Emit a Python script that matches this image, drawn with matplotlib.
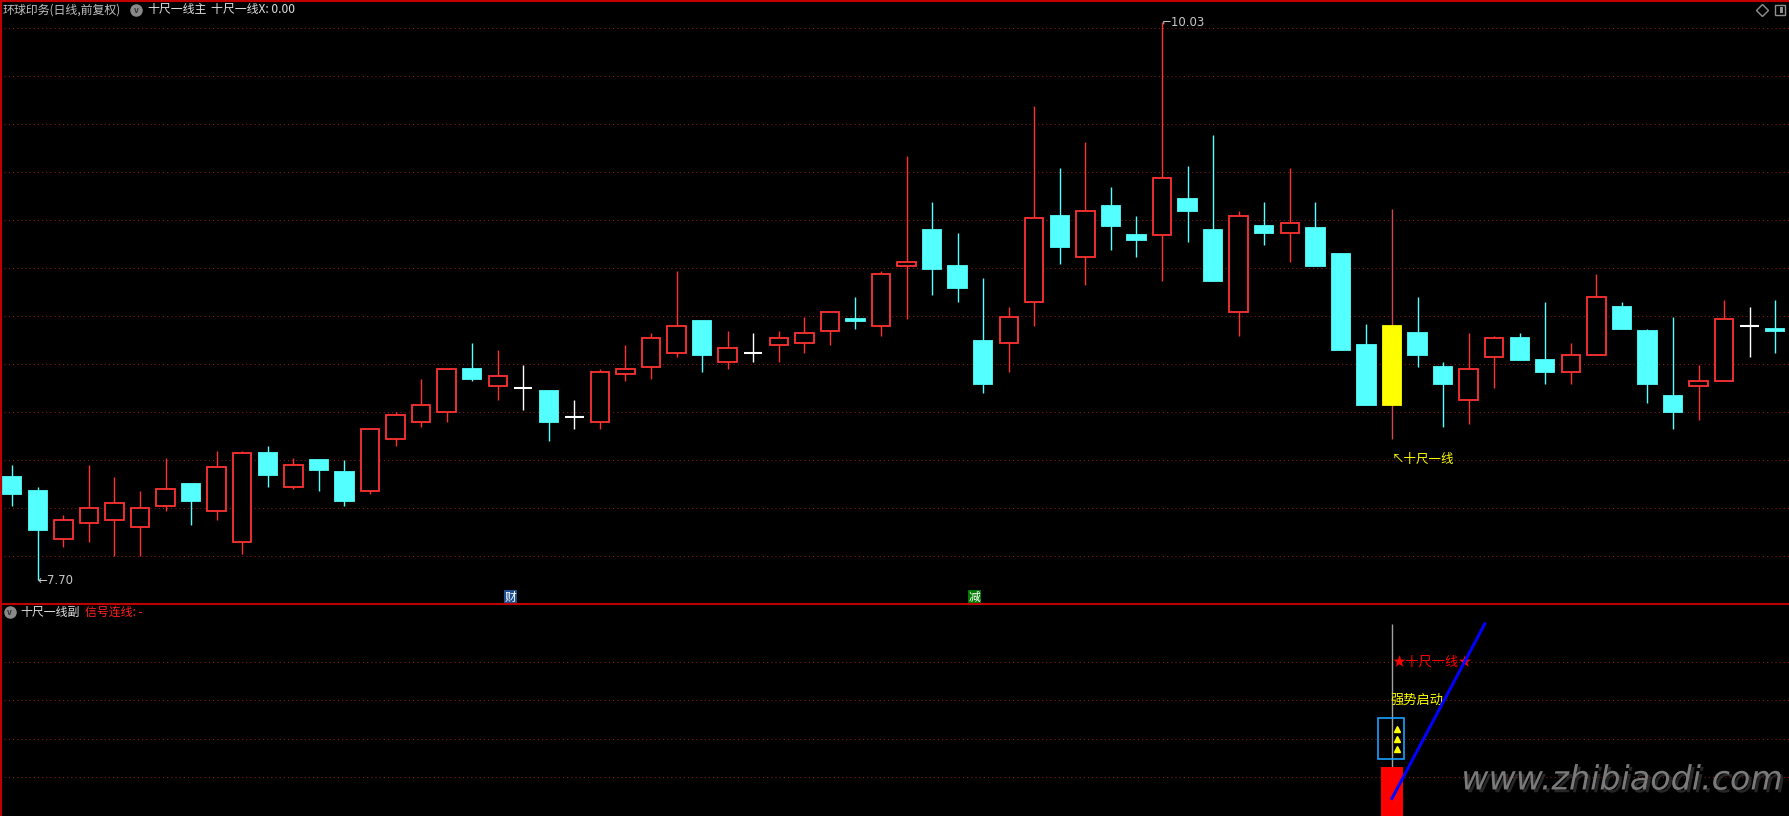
import numpy as np
import matplotlib
matplotlib.use("Agg")
import matplotlib.pyplot as plt
from matplotlib.lines import Line2D
from matplotlib.patches import Rectangle
import matplotlib.patheffects as pe

plt.rcParams['font.family'] = ['Noto Sans CJK SC', 'DejaVu Sans']

# ---- daily candles (环球印务, 前复权) ----
opens = [8.13, 8.07, 7.87, 7.94, 7.95, 7.92, 8.01, 8.10, 7.99, 7.86,
         8.23, 8.09, 8.20, 8.15, 8.07, 8.29, 8.36, 8.40, 8.58, 8.51,
         8.50, 8.49, 8.38, 8.36, 8.56, 8.59, 8.65, 8.78, 8.61, 8.65,
         8.68, 8.69, 8.74, 8.79, 8.76, 9.01, 9.16, 9.01, 8.70, 8.69,
         8.86, 9.22, 9.05, 9.26, 9.14, 9.14, 9.29, 9.16, 8.82, 9.18,
         9.15, 9.17, 9.06, 8.68, 8.43, 8.73, 8.59, 8.45, 8.63, 8.71,
         8.62, 8.57, 8.64, 8.84, 8.74, 8.47, 8.51, 8.53, 8.76, 8.75]
highs = [8.18, 8.09, 7.97, 8.18, 8.13, 8.07, 8.21, 8.10, 8.24, 8.24,
         8.26, 8.21, 8.20, 8.20, 8.33, 8.40, 8.54, 8.58, 8.69, 8.66,
         8.60, 8.49, 8.45, 8.58, 8.68, 8.73, 8.99, 8.78, 8.74, 8.73,
         8.74, 8.80, 8.82, 8.88, 8.99, 9.47, 9.28, 9.15, 8.96, 8.84,
         9.68, 9.42, 9.53, 9.34, 9.22, 10.03, 9.43, 9.56, 9.24, 9.28,
         9.42, 9.28, 9.06, 8.77, 9.25, 8.88, 8.61, 8.73, 8.72, 8.73,
         8.86, 8.69, 8.98, 8.86, 8.75, 8.80, 8.60, 8.87, 8.84, 8.87]
lows = [8.01, 7.70, 7.84, 7.86, 7.80, 7.80, 7.99, 7.93, 7.95, 7.81,
        8.09, 8.08, 8.07, 8.01, 8.06, 8.26, 8.34, 8.36, 8.53, 8.45,
        8.41, 8.28, 8.33, 8.33, 8.53, 8.54, 8.63, 8.57, 8.58, 8.61,
        8.61, 8.65, 8.68, 8.75, 8.72, 8.79, 8.89, 8.86, 8.48, 8.57,
        8.76, 9.02, 8.93, 9.08, 9.05, 8.95, 9.11, 8.95, 8.72, 9.10,
        9.03, 9.01, 8.66, 8.43, 8.29, 8.59, 8.34, 8.35, 8.50, 8.62,
        8.52, 8.52, 8.64, 8.75, 8.44, 8.33, 8.37, 8.53, 8.63, 8.65]
closes = [8.06, 7.91, 7.95, 8.00, 8.02, 8.00, 8.08, 8.03, 8.17, 8.23,
          8.14, 8.18, 8.16, 8.03, 8.33, 8.39, 8.43, 8.58, 8.54, 8.55,
          8.50, 8.36, 8.38, 8.57, 8.58, 8.71, 8.76, 8.64, 8.67, 8.65,
          8.71, 8.73, 8.82, 8.78, 8.98, 9.03, 9.00, 8.92, 8.52, 8.80,
          9.21, 9.09, 9.24, 9.18, 9.12, 9.38, 9.24, 8.95, 9.22, 9.15,
          9.19, 9.01, 8.66, 8.43, 8.76, 8.64, 8.52, 8.58, 8.71, 8.62,
          8.57, 8.64, 8.88, 8.75, 8.52, 8.40, 8.53, 8.79, 8.76, 8.74]

signal_idx = 54            # 十尺一线 signal day
cai_idx, jian_idx = 19.5, 37.65   # 财 / 减 markers
hi_idx, hi_val = 45, 10.03
lo_idx, lo_val = 1, 7.70
# sub panel (十尺一线副), panel units 0..100
sub_bar = 23.3
sub_line_x = [54, 57.63]
sub_line_y = [8.3, 90.6]
sub_tri = [41.2, 36.4, 31.6]

RED = '#ff3232'
CYAN = '#54ffff'
GRID = '#8a1a1a'
BORDER = '#c00000'
W, H = 1789, 816

def fx(x):
    return x / W

def fy(y):
    return 1 - y / H

fig = plt.figure(figsize=(W / 100, H / 100), dpi=100, facecolor='black')
ax = fig.add_axes([0, fy(604), 1, 604 / H])
sub = fig.add_axes([0, 0, 1, fy(604)])

for a in (ax, sub):
    a.set_facecolor('black')
    for s in a.spines.values():
        s.set_visible(False)
    a.tick_params(length=0, labelleft=False, labelbottom=False)
    a.set_xticks([])
    a.set_xlim(-0.481, 69.54)

ax.set_ylim(7.600, 10.122)
ax.set_yticks(10.005 - 0.2004 * np.arange(12))
ax.grid(axis='y', color=GRID, lw=0.75, linestyle=(0, (1, 3)))
sub.set_ylim(0, 100)
sub.set_yticks([72.6, 54.7, 36.3, 18.3])
sub.grid(axis='y', color=GRID, lw=0.75, linestyle=(0, (1, 3)))

o = np.array(opens); h = np.array(highs); l = np.array(lows); c = np.array(closes)
idx = np.arange(len(o))
bw = 0.72

wick_col, face_col, edge_col = [], [], []
for i in idx:
    if i == signal_idx:
        wick_col.append('#d04848'); face_col.append('#ffff00'); edge_col.append('#ffff00')
    elif c[i] > o[i]:
        wick_col.append(RED); face_col.append('black'); edge_col.append(RED)
    elif c[i] < o[i]:
        wick_col.append(CYAN); face_col.append(CYAN); edge_col.append(CYAN)
    else:
        wick_col.append('white'); face_col.append('white'); edge_col.append('white')

ax.vlines(idx, l, h, colors=wick_col, lw=1.0, zorder=2)
body = c != o
ax.bar(idx[body], np.abs(c - o)[body], bottom=np.minimum(o, c)[body], width=bw,
       color=[face_col[i] for i in idx[body]], edgecolor=[edge_col[i] for i in idx[body]],
       lw=1.3, zorder=3)
flat = ~body
ax.hlines(o[flat], idx[flat] - bw / 2, idx[flat] + bw / 2, colors='white', lw=1.5, zorder=3)

# price labels
ax.text(lo_idx, lo_val, '←7.70', color='#c8c8c8', fontsize=8.5, ha='left', va='center',
        family=['DejaVu Sans'], zorder=5)
ax.text(hi_idx, hi_val, '⌐10.03', color='#c8c8c8', fontsize=8.5, ha='left', va='center',
        family=['DejaVu Sans'], zorder=5)
ax.text(signal_idx - 0.02, 8.204, '↖十尺一线', color='#ffff00', fontsize=9,
        ha='left', va='center', zorder=5)
ax.text(cai_idx, 7.629, '财', color='white', fontsize=8.5, ha='center', va='center',
        bbox=dict(boxstyle='square,pad=0.05', fc='#1f4f8f', ec='none'), zorder=5)
ax.text(jian_idx, 7.629, '减', color='white', fontsize=8.5, ha='center', va='center',
        bbox=dict(boxstyle='square,pad=0.05', fc='#007a00', ec='none'), zorder=5)

# sub panel
sub.bar([signal_idx], [sub_bar], width=0.89, color='#ff0000', zorder=3)
sub.vlines(signal_idx, sub_bar, 90.6, colors='#a0a0a0', lw=1.0, zorder=2)
sub.add_patch(Rectangle((53.46, 26.7), 1.02, 19.5, fill=False, ec='#1aa0ff', lw=1.2, zorder=4))
sub.plot([54.2] * 3, sub_tri, linestyle='none', marker='^', ms=4.5, color='#ffff00', zorder=5)
sub.plot(sub_line_x, sub_line_y, color='#0000ff', lw=2.2, zorder=6)
sub.text(54.03, 72.5, '★十尺一线★', color='#ff0000', fontsize=9.5, ha='left', va='center', zorder=5)
sub.text(53.95, 54.7, '强势启动', color='#ffff00', fontsize=9.5, ha='left', va='center', zorder=5)
sub.text(69.3, 17, 'www.zhibiaodi.com', color='#7a7a7a', fontsize=24,
         style='italic', ha='right', va='center', family=['DejaVu Sans'],
         path_effects=[pe.withSimplePatchShadow(offset=(2, -2), shadow_rgbFace='#303030', alpha=0.8)],
         zorder=7)

# borders
fig.add_artist(Line2D([0, 1], [fy(0.7), fy(0.7)], color=BORDER, lw=1.5, transform=fig.transFigure))
fig.add_artist(Line2D([0, 1], [fy(604), fy(604)], color=BORDER, lw=1.5, transform=fig.transFigure))
fig.add_artist(Line2D([fx(1.2), fx(1.2)], [0, 1], color=BORDER, lw=1.5, transform=fig.transFigure))

# headers
fig.text(fx(3), fy(10), '环球印务(日线,前复权)', color='#c0c0c0', fontsize=8.6, va='center')
fig.add_artist(Line2D([fx(136)], [fy(10)], marker='o', ms=8, color='#8a8a8a', transform=fig.transFigure))
fig.text(fx(136), fy(10.5), 'v', color='#303030', fontsize=6, ha='center', va='center', weight='bold')
fig.text(fx(147), fy(10), '十尺一线主', color='#e0e0e0', fontsize=8.6, va='center')
fig.text(fx(211), fy(10), '十尺一线X: 0.00', color='#e0e0e0', fontsize=8.6, va='center')

fig.add_artist(Line2D([fx(9.5)], [fy(612)], marker='o', ms=8, color='#8a8a8a', transform=fig.transFigure))
fig.text(fx(9.5), fy(612.5), 'v', color='#303030', fontsize=6, ha='center', va='center', weight='bold')
fig.text(fx(20), fy(612), '十尺一线副', color='#e0e0e0', fontsize=8.6, va='center')
fig.text(fx(85), fy(612), '信号连线: -', color='#ff2020', fontsize=8.6, va='center')

# top-right icons
fig.add_artist(Line2D([fx(1761.7)], [fy(10)], marker='D', ms=6, mfc='none', mec='#909090',
                      mew=1, transform=fig.transFigure))
fig.add_artist(Rectangle((fx(1775), fy(15)), 10 / W, 10 / H, fill=False, ec='#909090', lw=1,
                         transform=fig.transFigure))
fig.add_artist(Rectangle((fx(1780), fy(13)), 3 / W, 6 / H, fc='#909090', ec='none',
                         transform=fig.transFigure))

fig.savefig('out.png', dpi=100, facecolor='black')
